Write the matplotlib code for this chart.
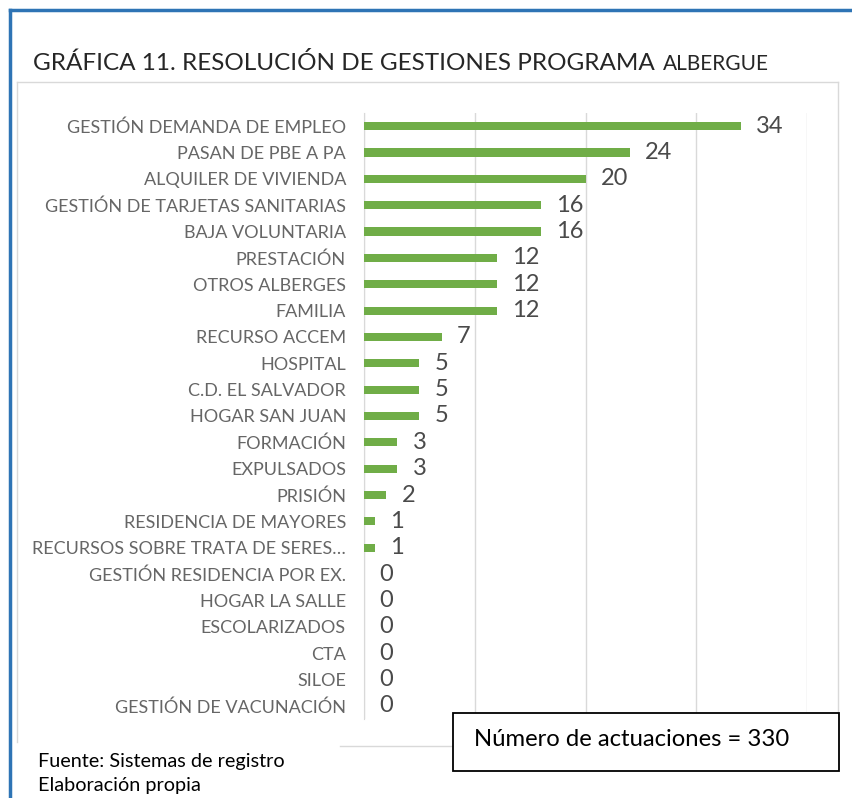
import numpy as np
import matplotlib
matplotlib.use('Agg')
import matplotlib.pyplot as plt
from matplotlib.lines import Line2D
from matplotlib.patches import Rectangle

# datos de la gráfica
categorias = ['GESTIÓN DEMANDA DE EMPLEO', 'PASAN DE PBE A PA', 'ALQUILER DE VIVIENDA',
              'GESTIÓN DE TARJETAS SANITARIAS', 'BAJA VOLUNTARIA', 'PRESTACIÓN',
              'OTROS ALBERGES', 'FAMILIA', 'RECURSO ACCEM', 'HOSPITAL', 'C.D. EL SALVADOR',
              'HOGAR SAN JUAN', 'FORMACIÓN', 'EXPULSADOS', 'PRISIÓN', 'RESIDENCIA DE MAYORES',
              'RECURSOS SOBRE TRATA DE SERES…', 'GESTIÓN RESIDENCIA POR EX.', 'HOGAR LA SALLE',
              'ESCOLARIZADOS', 'CTA', 'SILOE', 'GESTIÓN DE VACUNACIÓN']
valores = [34, 24, 20, 16, 16, 12, 12, 12, 7, 5, 5, 5, 3, 3, 2, 1, 1, 0, 0, 0, 0, 0, 0]
ticks_x = [0, 10, 20, 30, 40]

W, H = 852, 798
plt.rcParams['font.family'] = ['Lato', 'DejaVu Sans']
fig = plt.figure(figsize=(W / 100, H / 100), dpi=100)

def fx(px):
    return px / W

def fy(py):
    return 1 - py / H

# bordo azul della pagina
fig.add_artist(Line2D([fx(9.5), 1], [fy(9.5), fy(9.5)], color='#2E74B5', lw=2.5))
fig.add_artist(Line2D([fx(9.5), fx(9.5)], [fy(9.5), 0], color='#2E74B5', lw=2.5))

# cornice grigia del grafico
grigio = '#D9D9D9'
fig.add_artist(Line2D([fx(17), fx(838)], [fy(82), fy(82)], color=grigio, lw=1))
fig.add_artist(Line2D([fx(17), fx(17)], [fy(82), fy(742)], color=grigio, lw=1))
fig.add_artist(Line2D([fx(838), fx(838)], [fy(82), fy(746)], color=grigio, lw=1))
fig.add_artist(Line2D([fx(340), fx(838)], [fy(746), fy(746)], color=grigio, lw=1))

ax = fig.add_axes([fx(364), fy(719), fx(807) - fx(364), fy(113) - fy(719)])
y = np.arange(len(categorias))
ax.barh(y, valores, height=0.31, color='#70AD47', zorder=3)
ax.set_ylim(len(categorias) - 0.5, -0.5)
ax.set_xlim(0, 40)
ax.set_xticks(ticks_x)
ax.set_xticklabels([])
ax.tick_params(axis='x', length=0)
ax.tick_params(axis='y', length=0, pad=13)
ax.set_yticks(y)
ax.set_yticklabels(categorias, fontsize=13, color='#666666')
ax.grid(axis='x', color=grigio, lw=1, zorder=0)
for s in ['top', 'right', 'bottom']:
    ax.spines[s].set_visible(False)
ax.spines['left'].set_color(grigio)
ax.set_facecolor('none')

for i, v in enumerate(valores):
    ax.annotate(str(v), (v, i), xytext=(11, 0), textcoords='offset points',
                va='center', ha='left', fontsize=17, color='#4a4a4a')

# titolo
t1 = fig.text(fx(33), fy(70), 'GRÁFICA 11. RESOLUCIÓN DE GESTIONES PROGRAMA',
              fontsize=17.5, color='#262626', va='baseline')
fig.canvas.draw()
bb = t1.get_window_extent()
fig.text((bb.x1 + 8) / W, fy(70), 'ALBERGUE', fontsize=15, color='#262626', va='baseline')

# fonte
fig.text(fx(38), fy(761), 'Fuente: Sistemas de registro', fontsize=14.3, color='black', va='center')
fig.text(fx(38), fy(785), 'Elaboración propia', fontsize=14.3, color='black', va='center')

# riquadro con il totale
fig.add_artist(Rectangle((fx(453), fy(771)), fx(839) - fx(453), fy(713) - fy(771),
                         facecolor='white', edgecolor='black', lw=1.3, zorder=5))
fig.text(fx(474), fy(740), 'Número de actuaciones = 330', fontsize=17.2, color='black',
         va='center', zorder=6)

fig.savefig('out.png', dpi=100)
